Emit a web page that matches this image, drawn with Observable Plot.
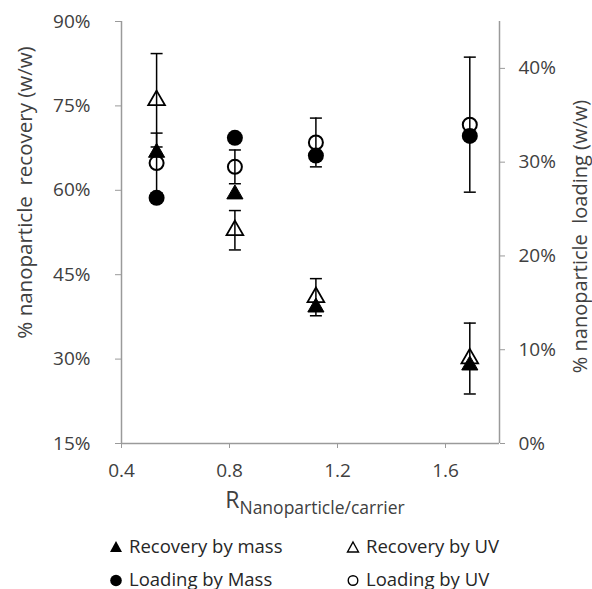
<!DOCTYPE html>
<html>
<head>
<meta charset="utf-8">
<script src="https://cdn.jsdelivr.net/npm/d3@7"></script>
<script src="https://cdn.jsdelivr.net/npm/@observablehq/plot@0.6"></script>
<style>
  html, body { margin: 0; padding: 0; background: #fff; }
  #wrap { position: relative; width: 592px; height: 589px; overflow: hidden; font-family: "Open Sans", sans-serif; color: #404040; }
  .leg { position: absolute; font-size: 18.5px; line-height: 18px; white-space: nowrap; color: #262626; }
  .leg svg { position: absolute; }
</style>
</head>
<body>
<div id="wrap"></div>
<script>
// ---- data ----
const ratio = [0.53, 0.82, 1.12, 1.69];                 // R nanoparticle/carrier
const recoveryMass = [66.7, 59.3, 39.2, 28.9];          // % recovery by mass (left axis)
const recoveryUV = [76.0, 52.9, 41.0, 30.1];            // % recovery by UV (left axis)
const recoveryUVErr = [8.3, 3.5, 3.3, 6.3];
const loadingMass = [26.2, 32.6, 30.7, 32.8];           // % loading by mass (right axis)
const loadingUV = [29.9, 29.5, 32.1, 34.0];             // % loading by UV (right axis)
const loadingUVErr = [3.2, 1.8, 2.6, 7.2];

const xTicks = [0.4, 0.8, 1.2, 1.6];
const leftTicks = [15, 30, 45, 60, 75, 90];
const rightTicks = [0, 10, 20, 30, 40];

// right axis (0–45%) is mapped onto left axis (15–90%)
const toLeft = v => v / 0.6 + 15;
const fromLeft = v => (v - 15) * 0.6;

const rows = ratio.map((x, i) => ({
  x,
  rm: recoveryMass[i],
  ru: recoveryUV[i], ruLo: recoveryUV[i] - recoveryUVErr[i], ruHi: recoveryUV[i] + recoveryUVErr[i],
  lm: toLeft(loadingMass[i]),
  lu: toLeft(loadingUV[i]), luLo: toLeft(loadingUV[i] - loadingUVErr[i]), luHi: toLeft(loadingUV[i] + loadingUVErr[i])
}));

const cap = { draw(ctx) { ctx.moveTo(-6, 0); ctx.lineTo(6, 0); } };
const axisGray = "#9a9a9a";
const txt = "#404040";

const plot = Plot.plot({
  width: 592,
  height: 520,
  marginLeft: 121,
  marginRight: 93,
  marginTop: 21,
  marginBottom: 77,
  style: { fontFamily: "Open Sans", fontSize: "19px", background: "#fff" },
  x: { domain: [0.4, 1.8] },
  y: { domain: [15, 90] },
  marks: [
    Plot.axisX({ ticks: xTicks, tickFormat: d3.format(".1f"), tickSize: 5, tickPadding: 15, stroke: axisGray, fill: txt, label: null, fontSize: 19 }),
    Plot.axisY({ anchor: "left", ticks: leftTicks, tickFormat: d => d + "%", tickSize: 6, tickPadding: 25, stroke: axisGray, fill: txt, label: null, fontSize: 19 }),
    Plot.axisY({ anchor: "right", ticks: rightTicks.map(toLeft), tickFormat: d => Math.round(fromLeft(d)) + "%", tickSize: 5, tickPadding: 14, stroke: axisGray, fill: txt, label: null, fontSize: 19 }),
    Plot.ruleX([0.4, 1.8], { stroke: axisGray, strokeWidth: 1.5 }),
    Plot.ruleY([15], { stroke: axisGray, strokeWidth: 1.5 }),
    Plot.text(["% nanoparticle\u00a0 recovery (w/w)"], { frameAnchor: "top-left", dx: -96, dy: 171, rotate: -90, textAnchor: "middle", lineAnchor: "middle", fill: txt, fontSize: 20.5 }),
    Plot.text(["% nanoparticle\u00a0 loading (w/w)"], { frameAnchor: "right", dx: 81, dy: 4, rotate: -90, textAnchor: "middle", lineAnchor: "middle", fill: txt, fontSize: 20 }),
    // error bars (UV series)
    Plot.ruleX(rows, { x: "x", y1: "ruLo", y2: "ruHi", stroke: "#000", strokeWidth: 1.5 }),
    Plot.ruleX(rows, { x: "x", y1: "luLo", y2: "luHi", stroke: "#000", strokeWidth: 1.5 }),
    Plot.dot(rows, { x: "x", y: "ruLo", symbol: cap, stroke: "#000", strokeWidth: 1.5 }),
    Plot.dot(rows, { x: "x", y: "ruHi", symbol: cap, stroke: "#000", strokeWidth: 1.5 }),
    Plot.dot(rows, { x: "x", y: "luLo", symbol: cap, stroke: "#000", strokeWidth: 1.5 }),
    Plot.dot(rows, { x: "x", y: "luHi", symbol: cap, stroke: "#000", strokeWidth: 1.5 }),
    // series
    Plot.dot(rows, { x: "x", y: "rm", symbol: "triangle", r: 6, fill: "#000", stroke: "#000", strokeWidth: 1 }),
    Plot.dot(rows, { x: "x", y: "ru", symbol: "triangle", r: 6.2, fill: "none", stroke: "#000", strokeWidth: 1.8 }),
    Plot.dot(rows, { x: "x", y: "lm", r: 8, fill: "#000", stroke: "none" }),
    Plot.dot(rows, { x: "x", y: "lu", r: 7, fill: "none", stroke: "#000", strokeWidth: 2 })
  ]
});

const wrap = document.getElementById("wrap");
wrap.appendChild(plot);

// x axis title with subscript
const svg = d3.select(plot);
const t = svg.append("text")
  .attr("x", 315).attr("y", 508)
  .attr("text-anchor", "middle")
  .attr("fill", txt)
  .style("font-family", "Open Sans");
t.append("tspan").attr("font-size", 23).text("R");
t.append("tspan").attr("font-size", 17.5).attr("dy", 6).text("Nanoparticle/carrier");

// legend
const legendItems = [
  { label: "Recovery by mass", sym: "triFill", left: 108, top: 537 },
  { label: "Recovery by UV", sym: "triOpen", left: 345, top: 537 },
  { label: "Loading by Mass", sym: "circFill", left: 108, top: 570 },
  { label: "Loading by UV", sym: "circOpen", left: 345, top: 570 }
];
legendItems.forEach(it => {
  const d = document.createElement("div");
  d.className = "leg";
  d.style.left = it.left + "px";
  d.style.top = it.top + "px";
  d.style.paddingLeft = "21px";
  let shape = "";
  if (it.sym === "triFill") shape = '<polygon points="8,2 14,13 2,13" fill="#000"/>';
  if (it.sym === "triOpen") shape = '<polygon points="8,3 13.5,13 2.5,13" fill="none" stroke="#000" stroke-width="1.4"/>';
  if (it.sym === "circFill") shape = '<circle cx="8" cy="8.5" r="5.8" fill="#000"/>';
  if (it.sym === "circOpen") shape = '<circle cx="8" cy="8.5" r="4.8" fill="none" stroke="#000" stroke-width="1.4"/>';
  d.innerHTML = '<svg width="16" height="16" style="left:0;top:2px">' + shape + '</svg>' + it.label;
  wrap.appendChild(d);
});
</script>
</body>
</html>
